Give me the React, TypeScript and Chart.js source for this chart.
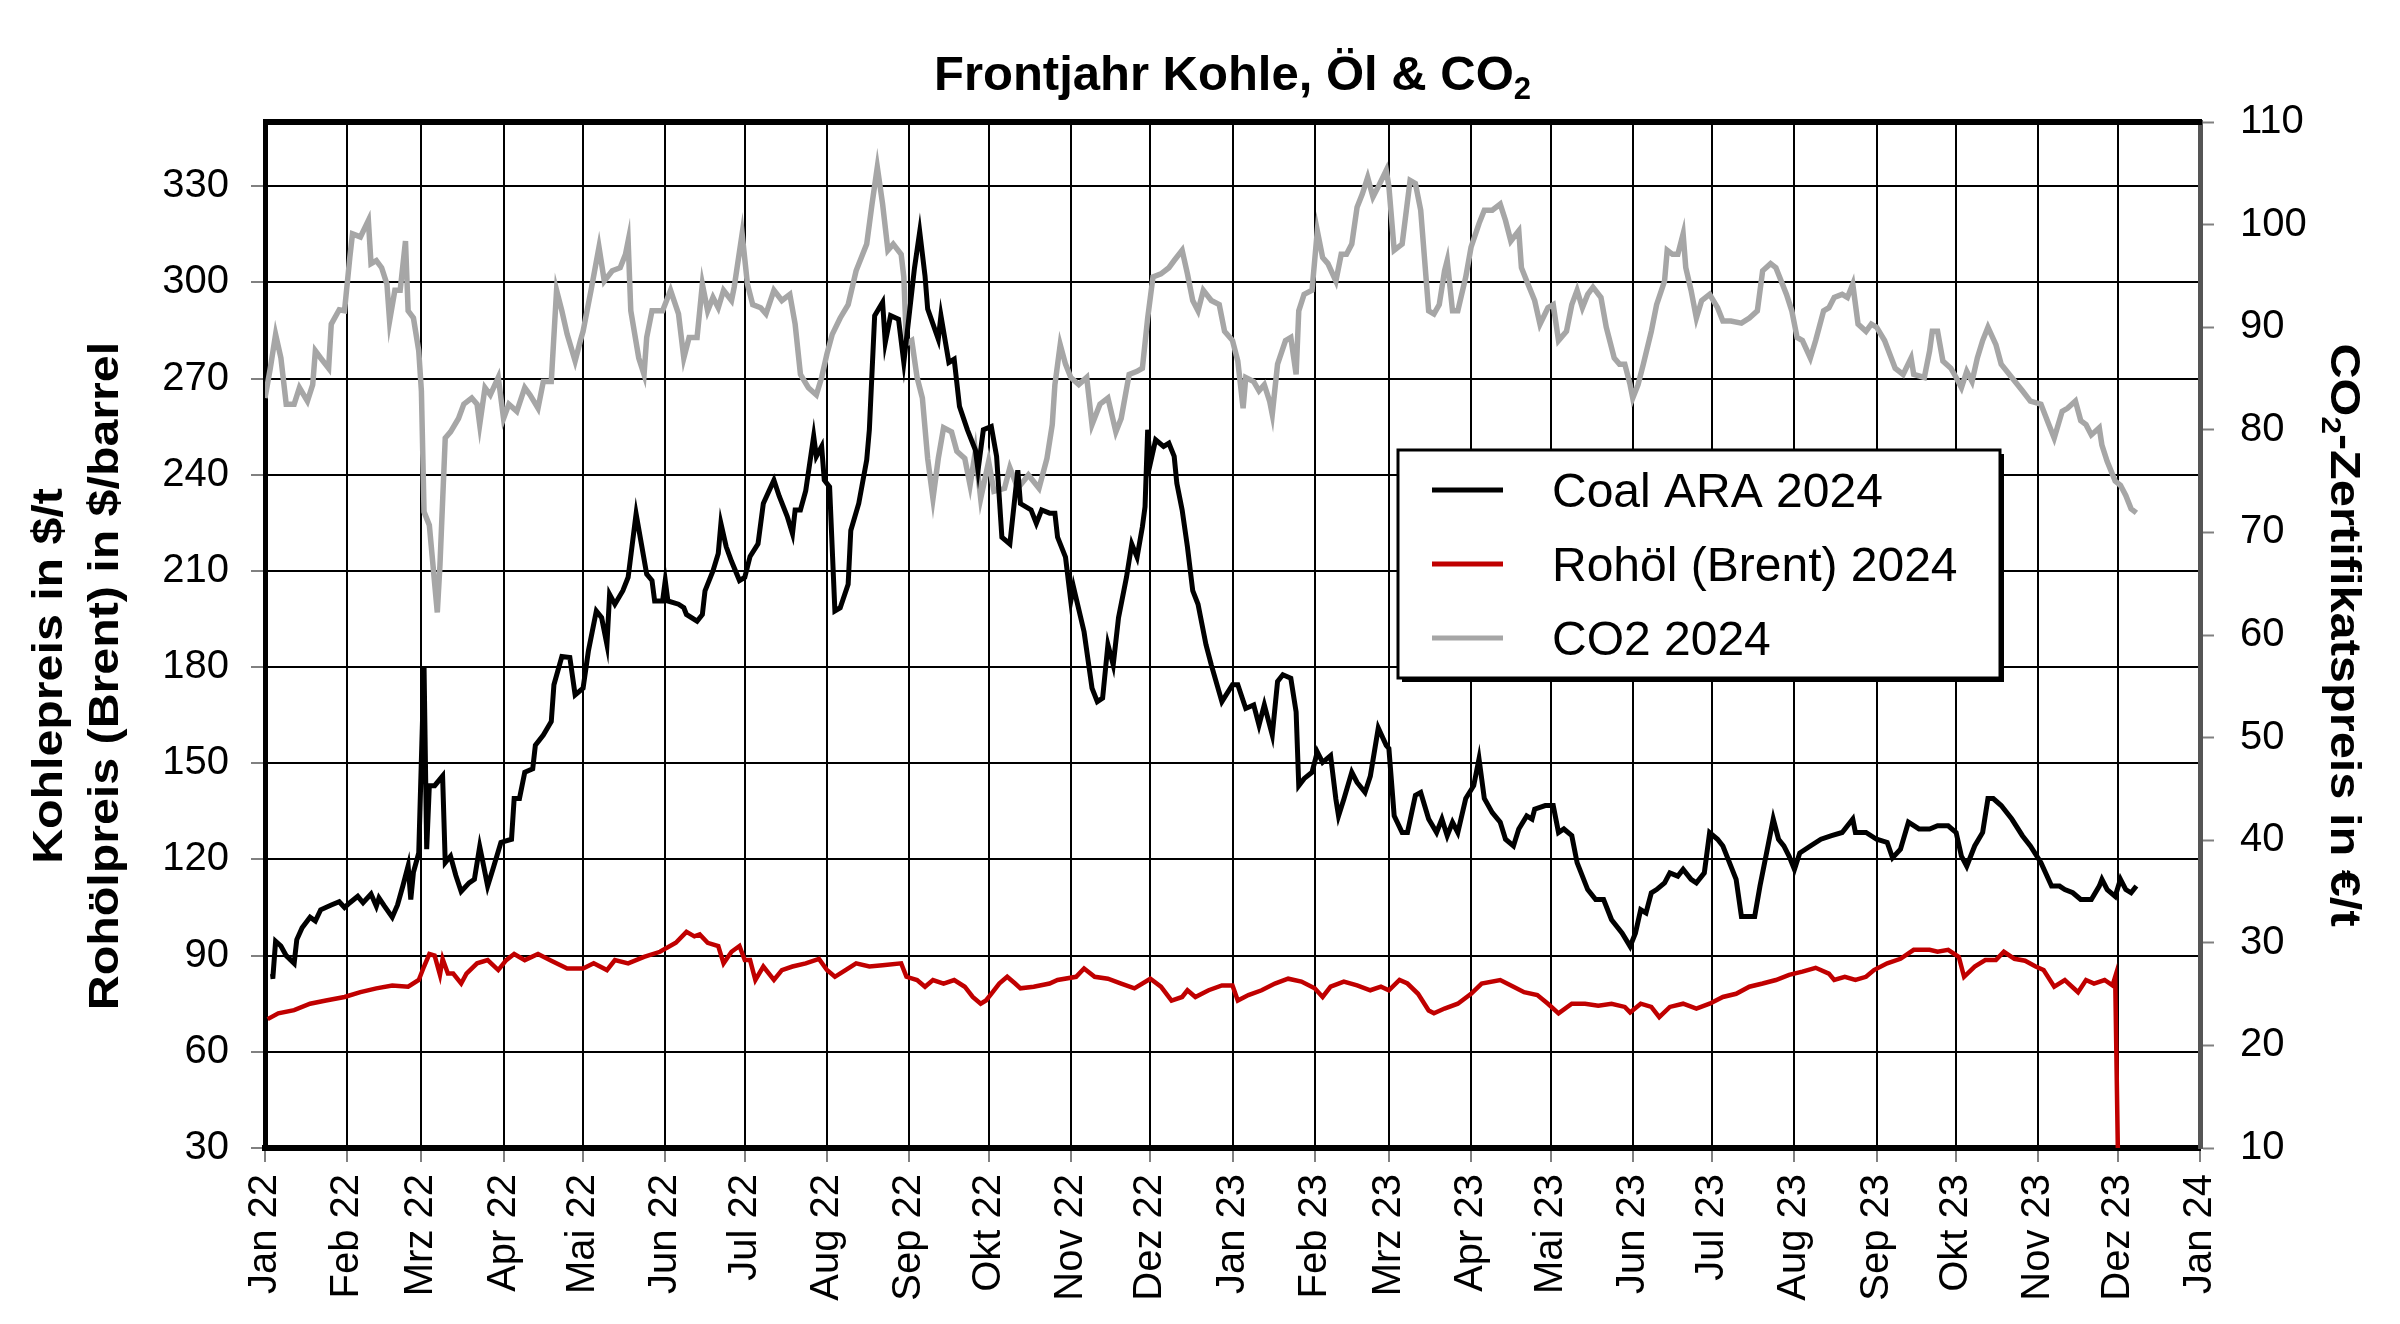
import React, { useEffect, useRef } from 'react';
import { Chart, registerables } from 'chart.js';

Chart.register(...registerables);

const FONT = '"Liberation Sans", Arial, sans-serif';

// Month starts (days since 1 Jan 2022) and their tick labels
const monthDays = [0, 31, 59, 90, 120, 151, 181, 212, 243, 273, 304, 334, 365, 396, 424, 455, 485, 516, 546, 577, 608, 638, 669, 699, 730];
const monthLabels = ['Jan 22', 'Feb 22', 'Mrz 22', 'Apr 22', 'Mai 22', 'Jun 22', 'Jul 22', 'Aug 22', 'Sep 22', 'Okt 22', 'Nov 22', 'Dez 22', 'Jan 23', 'Feb 23', 'Mrz 23', 'Apr 23', 'Mai 23', 'Jun 23', 'Jul 23', 'Aug 23', 'Sep 23', 'Okt 23', 'Nov 23', 'Dez 23', 'Jan 24'];

const leftTicks = [30, 60, 90, 120, 150, 180, 210, 240, 270, 300, 330];

// Coal ARA 2024 ($/t)
const coalDays = [2, 3, 4, 6, 8, 11, 12, 14, 17, 19, 21, 25, 28, 30, 32, 35, 37, 40, 42, 43, 45, 48, 50, 52, 54, 55, 56, 58, 60, 61, 62, 64, 67, 68, 70, 72, 74, 77, 79, 81, 82, 84, 86, 89, 93, 94, 96, 98, 101, 102, 105, 108, 109, 112, 115, 117, 120, 122, 125, 127, 129, 130, 132, 135, 137, 140, 142, 144, 146, 147, 150, 151, 152, 156, 158, 159, 163, 165, 166, 169, 171, 172, 174, 176, 179, 181, 183, 186, 188, 192, 194, 197, 199, 200, 202, 204, 207, 208, 210, 211, 213, 215, 217, 220, 221, 224, 227, 228, 230, 233, 234, 236, 239, 241, 242, 245, 247, 249, 250, 254, 255, 258, 260, 262, 265, 268, 269, 271, 274, 276, 278, 281, 284, 285, 289, 291, 293, 296, 298, 299, 302, 304, 305, 309, 312, 314, 316, 318, 320, 322, 325, 327, 329, 331, 332, 333, 334, 336, 339, 341, 343, 344, 346, 348, 350, 352, 355, 357, 361, 365, 367, 370, 373, 375, 377, 380, 382, 384, 387, 389, 390, 392, 395, 397, 399, 402, 404, 405, 407, 410, 412, 415, 417, 420, 423, 424, 426, 429, 431, 434, 436, 439, 442, 444, 446, 448, 450, 453, 456, 458, 460, 463, 466, 468, 471, 473, 476, 478, 479, 483, 486, 488, 490, 493, 495, 499, 502, 505, 508, 512, 515, 517, 519, 521, 523, 525, 528, 530, 533, 535, 538, 540, 543, 545, 548, 550, 552, 555, 557, 559, 562, 564, 567, 569, 571, 573, 575, 577, 579, 583, 587, 591, 595, 599, 600, 604, 608, 612, 614, 617, 620, 624, 628, 631, 635, 638, 640, 642, 645, 648, 650, 652, 655, 659, 663, 666, 670, 674, 677, 679, 682, 685, 689, 692, 693, 695, 698, 700, 702, 704, 706];
const coalPrices = [83.4, 83.5, 94.5, 93, 90, 87.6, 95, 98.7, 102, 100.8, 104.3, 105.8, 106.8, 105, 106.5, 108.5, 106.5, 109.2, 105.4, 108, 105.5, 102, 105.8, 111.7, 118, 107.5, 116, 122, 180.3, 123.2, 143, 143, 146, 119, 121, 115, 110, 112.7, 113.8, 124, 120, 111.7, 117, 125.3, 126.3, 139, 139, 147.2, 148.3, 155.6, 158.8, 163, 174.5, 183.3, 183, 171.3, 173.4, 185, 197.5, 195.4, 187, 202.7, 199.6, 203.8, 208, 227.8, 218.4, 209, 207, 200.6, 200.6, 207, 200.6, 199.6, 198.5, 196.4, 194.3, 196.4, 203.8, 210, 215.4, 224.8, 217.5, 213, 207, 208, 214.5, 218.4, 231, 238.3, 233.3, 227, 221.6, 229, 229, 235, 252, 245.7, 248.8, 238.3, 236.2, 197.5, 198.5, 205.8, 222.6, 231, 244.6, 254, 289.6, 293.8, 281.2, 289.6, 288.5, 275, 282.3, 304.3, 315.8, 302, 291.7, 282.3, 289.6, 275, 276, 261.3, 254, 247.7, 241.4, 254, 255, 245.7, 220.5, 218.4, 241.4, 231, 229, 224.8, 229, 228, 228, 220.5, 214.3, 200.6, 205, 191, 173.4, 169.2, 170.3, 187, 180.7, 195.4, 208, 218.4, 214.3, 223.7, 230, 254, 243.5, 250.9, 248.8, 249.8, 245.7, 237.3, 229, 217.5, 203.8, 199.6, 187, 180.7, 169.2, 174.5, 174.5, 167.1, 168.2, 161.9, 168.2, 158.8, 175.5, 177.6, 176.5, 166, 143, 145.2, 147.2, 153.5, 150.3, 152.4, 138.8, 133.6, 138.8, 147.2, 144, 140.9, 146, 161, 155.6, 154.6, 133.6, 128.4, 128.4, 140, 140.9, 132.6, 128.4, 132.6, 127.4, 131.6, 128.4, 139, 143, 151.4, 139, 134.6, 131.6, 126.3, 124.2, 129.5, 133.6, 132.6, 135.7, 136.8, 136.8, 128.4, 129.5, 127.4, 119, 110.6, 107.5, 107.5, 101.2, 97, 92.9, 97, 104.3, 103.3, 109.6, 110.6, 112.7, 115.8, 114.8, 116.9, 113.8, 112.7, 115.8, 128.4, 126.3, 124.2, 120, 113.8, 102.2, 102.2, 102.2, 111.7, 124.2, 132.6, 126.3, 124.2, 121, 116.9, 122, 124.2, 126.3, 127.4, 128.4, 132.6, 128.4, 128.4, 126.3, 125.3, 120.5, 123.2, 131.6, 129.5, 129.5, 130.5, 130.5, 128.4, 121, 117.9, 124.2, 128.4, 139, 139, 136.8, 132.6, 127.4, 124.2, 119, 111.7, 111.7, 110.6, 109.6, 107.5, 107.5, 111.7, 113.8, 110.6, 108.5, 113.8, 110.6, 109.6, 111.7];

// Rohöl (Brent) 2024 ($/barrel)
const brentDays = [1, 5, 11, 17, 23, 30, 36, 42, 48, 54, 58, 60, 62, 64, 66, 67, 69, 71, 74, 76, 80, 84, 88, 91, 94, 98, 103, 108, 114, 120, 124, 129, 132, 137, 143, 149, 155, 159, 162, 164, 167, 171, 173, 176, 179, 181, 183, 185, 188, 192, 195, 199, 204, 209, 212, 215, 219, 223, 228, 233, 240, 242, 246, 249, 252, 256, 260, 264, 267, 270, 272, 274, 277, 280, 283, 285, 290, 296, 299, 306, 309, 313, 318, 323, 328, 334, 338, 342, 346, 348, 351, 356, 361, 365, 367, 371, 376, 381, 386, 391, 396, 399, 402, 407, 412, 417, 421, 424, 428, 431, 435, 439, 441, 445, 450, 455, 459, 466, 471, 475, 480, 484, 488, 493, 498, 503, 508, 513, 515, 519, 523, 526, 530, 535, 540, 545, 550, 555, 560, 565, 570, 575, 580, 585, 590, 592, 596, 600, 604, 607, 612, 617, 622, 628, 631, 635, 639, 641, 645, 649, 653, 656, 660, 664, 668, 671, 675, 679, 684, 687, 690, 694, 697, 698, 699];
const brentPrices = [70.2, 72, 73, 75, 76, 77.1, 78.6, 79.8, 80.7, 80.3, 82.4, 86.6, 90.5, 90, 84, 89, 84.4, 84.4, 81.3, 84.4, 87.6, 88.6, 85.5, 88.6, 90.5, 88.6, 90.5, 88.4, 86, 86, 87.6, 85.5, 88.6, 87.6, 89.6, 91.2, 94, 97.4, 96, 96.6, 94, 93, 87.6, 91.2, 93, 88.6, 88.6, 82.4, 86.6, 82.4, 85.5, 86.6, 87.6, 89, 85.5, 83.4, 85.5, 87.6, 86.6, 87, 87.6, 83.4, 82.4, 80.3, 82.4, 81.3, 82.4, 80.3, 77.1, 75, 76, 78.1, 81.3, 83.4, 81.3, 79.8, 80.3, 81.3, 82.4, 83.4, 86, 83.4, 82.8, 81.3, 79.8, 82.8, 80.3, 76, 77.1, 79.2, 77.1, 79.2, 80.7, 80.7, 76, 77.7, 79.2, 81.3, 82.8, 81.9, 79.8, 77.1, 80.3, 81.9, 80.7, 79.2, 80.3, 79.2, 82.4, 81.3, 78.1, 72.9, 72, 73.5, 75, 78.1, 81.3, 82.4, 80.3, 78.6, 77.7, 75, 72, 75, 75, 74.4, 75, 74, 72.3, 75, 74, 70.8, 74, 75, 73.5, 75, 77.1, 78.1, 80.3, 81.3, 82.4, 84, 85, 86.2, 84.4, 82.4, 83.4, 82.4, 83.4, 85.5, 87.6, 89, 91.8, 91.8, 91.2, 91.8, 89.6, 83.4, 86.6, 88.6, 88.6, 91.2, 89, 88.4, 86.6, 85.5, 80.3, 82.4, 78.6, 82.4, 81.3, 82.4, 80.7, 83.4, 30];

// CO2 2024 (€/t)
const co2Days = [0, 2, 4, 6, 8, 11, 13, 16, 18, 19, 21, 24, 25, 28, 30, 32, 33, 36, 39, 40, 42, 44, 46, 47, 49, 51, 53, 54, 56, 58, 59, 60, 62, 65, 66, 68, 70, 73, 75, 78, 80, 81, 83, 85, 88, 90, 92, 95, 98, 100, 103, 105, 108, 110, 112, 114, 117, 119, 120, 123, 126, 128, 131, 134, 136, 137, 138, 141, 143, 144, 146, 150, 153, 156, 158, 160, 163, 165, 167, 169, 171, 173, 176, 177, 180, 182, 184, 187, 189, 192, 195, 198, 200, 202, 205, 208, 210, 212, 214, 217, 220, 223, 227, 229, 231, 233, 235, 237, 240, 241, 242, 244, 246, 248, 250, 252, 254, 256, 259, 261, 264, 266, 268, 270, 273, 275, 279, 281, 284, 288, 292, 295, 297, 298, 300, 302, 304, 307, 310, 312, 315, 318, 321, 323, 326, 329, 331, 333, 335, 338, 341, 343, 346, 348, 350, 352, 354, 357, 360, 362, 365, 367, 369, 370, 373, 375, 377, 379, 380, 382, 385, 387, 389, 390, 392, 395, 397, 399, 401, 404, 406, 408, 410, 412, 414, 416, 418, 420, 423, 424, 426, 429, 432, 434, 436, 439, 441, 443, 445, 446, 448, 450, 453, 455, 458, 460, 463, 466, 468, 470, 473, 474, 476, 479, 481, 484, 486, 488, 491, 493, 495, 497, 499, 501, 504, 506, 509, 511, 513, 515, 516, 518, 520, 523, 525, 528, 529, 531, 533, 535, 536, 538, 540, 542, 545, 548, 550, 553, 557, 560, 563, 565, 568, 570, 572, 574, 576, 578, 580, 583, 585, 588, 590, 592, 595, 597, 599, 601, 604, 606, 608, 611, 615, 618, 621, 622, 626, 628, 629, 631, 633, 636, 638, 640, 642, 644, 646, 648, 650, 653, 655, 659, 663, 666, 670, 673, 675, 678, 680, 683, 685, 687, 689, 692, 693, 695, 698, 700, 702, 704, 706];
const co2Prices = [83.1, 86, 89.3, 87, 82.5, 82.5, 84.1, 82.8, 84.4, 87.7, 87, 86, 90.3, 91.7, 91.6, 96.8, 99.1, 98.8, 100.4, 96.2, 96.5, 95.8, 94.2, 90.6, 93.6, 93.6, 98.4, 91.6, 90.9, 87.7, 83.8, 72, 70.7, 62.2, 66.8, 79.2, 79.8, 81.1, 82.5, 83.1, 82.5, 80.5, 84.1, 83.4, 85.1, 81.1, 82.5, 81.8, 84.1, 83.4, 82.1, 84.7, 84.7, 93.6, 91.6, 89.3, 86.7, 88.7, 89.6, 93.6, 97.8, 94.5, 95.5, 95.8, 97.1, 98.4, 91.6, 87, 85.4, 89, 91.6, 91.6, 93.6, 91.3, 87, 89, 89, 94.2, 91.6, 92.9, 91.9, 93.6, 92.6, 93.9, 99.1, 94.2, 92.2, 91.9, 91.3, 93.6, 92.6, 93.2, 90.3, 85.4, 84.1, 83.4, 85.1, 87.4, 89.3, 90.9, 92.2, 95.5, 98.1, 102, 105.6, 102, 97.5, 98.1, 97.1, 94.9, 88.4, 88.7, 85.1, 83.1, 77.2, 73.3, 77.2, 80.2, 79.8, 77.9, 77.2, 74.6, 77.9, 73.3, 76.9, 74, 74.3, 76.3, 74.3, 75.6, 74.3, 77.2, 80.5, 84.4, 88.3, 86.4, 85.1, 84.4, 85.1, 80.5, 82.5, 83.1, 79.8, 81.1, 85.4, 85.7, 86, 90.9, 94.9, 95.2, 95.8, 96.5, 97.5, 95.2, 92.6, 91.6, 93.6, 92.6, 92.2, 89.6, 88.7, 86.7, 82.1, 85.1, 84.7, 83.8, 84.4, 82.8, 81.5, 86.4, 88.7, 89, 85.4, 91.6, 93.2, 93.6, 99.4, 96.8, 96.2, 94.5, 97.1, 97.1, 98.1, 101.7, 103, 104.6, 102.7, 103.7, 105.3, 103.7, 97.5, 98.1, 104.3, 104, 101.4, 91.6, 91.3, 92.2, 95.5, 96.5, 91.6, 91.6, 94.9, 97.8, 100.1, 101.4, 101.4, 102, 100.4, 98.4, 99.4, 95.8, 94.5, 92.6, 90.3, 91.9, 92.2, 88.7, 89.6, 92.2, 93.6, 91.9, 93.2, 93.9, 92.9, 90, 87, 86.4, 86.4, 84.4, 83.1, 84.4, 86.4, 89.6, 92.2, 94.5, 97.5, 97.1, 97.1, 99.1, 95.8, 93.6, 90.9, 92.6, 93.2, 91.9, 90.6, 90.6, 90.4, 90.9, 91.6, 95.5, 96.2, 95.8, 94.5, 93.2, 91.6, 89, 88.7, 87, 88.7, 91.6, 91.9, 92.9, 93.2, 92.9, 94.2, 90.3, 89.6, 90.3, 90, 88.7, 86, 85.4, 87, 85.4, 85.1, 87.7, 89.6, 89.6, 86.7, 86, 85.1, 84.1, 85.7, 84.7, 87, 88.7, 90, 88.3, 86.4, 85.1, 83.8, 82.8, 82.5, 80.5, 79.2, 81.8, 82.1, 82.8, 80.9, 80.5, 79.5, 80.2, 78.5, 76.9, 75, 74.6, 73.6, 72.3, 71.9];

const seriesNames = ['Coal ARA 2024', 'Rohöl (Brent) 2024', 'CO2 2024'];
const seriesColors = ['#000000', '#C00000', '#A6A6A6'];

function toPoints(days: number[], vals: number[]) {
  return days.map((d, i) => ({ x: d, y: vals[i] }));
}

type Part = { t: string; font: string; dy: number };

function drawParts(ctx: CanvasRenderingContext2D, parts: Part[], startX: number) {
  let x = startX;
  for (const p of parts) {
    ctx.font = p.font;
    ctx.fillText(p.t, x, p.dy);
    x += ctx.measureText(p.t).width;
  }
}

function partsWidth(ctx: CanvasRenderingContext2D, parts: Part[]) {
  let w = 0;
  for (const p of parts) {
    ctx.font = p.font;
    w += ctx.measureText(p.t).width;
  }
  return w;
}

const decorPlugin = {
  id: 'decor',
  afterDraw(chart: any) {
    const ctx: CanvasRenderingContext2D = chart.ctx;
    const a = chart.chartArea;
    ctx.save();
    // top frame line
    ctx.strokeStyle = '#000';
    ctx.lineWidth = 6;
    ctx.beginPath();
    ctx.moveTo(a.left - 2, a.top);
    ctx.lineTo(a.right + 2, a.top);
    ctx.stroke();

    ctx.fillStyle = '#000';
    ctx.textAlign = 'left';
    ctx.textBaseline = 'alphabetic';

    // chart title with subscript
    const titleParts: Part[] = [
      { t: 'Frontjahr Kohle, Öl & CO', font: `bold 49px ${FONT}`, dy: 0 },
      { t: '2', font: `bold 31px ${FONT}`, dy: 9 },
    ];
    ctx.save();
    ctx.translate((a.left + a.right) / 2, 90);
    drawParts(ctx, titleParts, -partsWidth(ctx, titleParts) / 2);
    ctx.restore();

    // left axis title (two lines, rotated)
    const leftLines = [
      { t: 'Kohlepreis in $/t', x: 62 },
      { t: 'Rohölpreis (Brent) in $/barrel', x: 118 },
    ];
    for (const l of leftLines) {
      ctx.save();
      ctx.translate(l.x, 676);
      ctx.rotate(-Math.PI / 2);
      ctx.scale(1.15, 1);
      const p: Part[] = [{ t: l.t, font: `bold 42px ${FONT}`, dy: 0 }];
      drawParts(ctx, p, -partsWidth(ctx, p) / 2);
      ctx.restore();
    }

    // right axis title (rotated, with subscript)
    const rightParts: Part[] = [
      { t: 'CO', font: `bold 42px ${FONT}`, dy: 0 },
      { t: '2', font: `bold 27px ${FONT}`, dy: 9 },
      { t: '-Zertifikatspreis in €/t', font: `bold 42px ${FONT}`, dy: 0 },
    ];
    ctx.save();
    ctx.translate(2331, 635);
    ctx.rotate(Math.PI / 2);
    ctx.scale(1.16, 1);
    drawParts(ctx, rightParts, -partsWidth(ctx, rightParts) / 2);
    ctx.restore();

    // legend box
    const lx = 1398, ly = 450, lw = 602, lh = 228;
    ctx.fillStyle = '#000';
    ctx.fillRect(lx + 4, ly + 4, lw, lh);
    ctx.fillStyle = '#fff';
    ctx.fillRect(lx, ly, lw, lh);
    ctx.strokeStyle = '#000';
    ctx.lineWidth = 3;
    ctx.strokeRect(lx, ly, lw, lh);
    const rows = [490, 564, 638];
    seriesNames.forEach((name, i) => {
      ctx.strokeStyle = seriesColors[i];
      ctx.lineWidth = 5;
      ctx.beginPath();
      ctx.moveTo(1432, rows[i]);
      ctx.lineTo(1503, rows[i]);
      ctx.stroke();
      ctx.fillStyle = '#000';
      ctx.font = `48px ${FONT}`;
      ctx.fillText(name, 1552, rows[i] + 17);
    });
    ctx.restore();
  },
};

export default function App() {
  const ref = useRef<HTMLCanvasElement | null>(null);
  useEffect(() => {
    if (!ref.current) return;
    const tickFont = { family: FONT, size: 40 };
    const chart = new Chart(ref.current, {
      type: 'line',
      data: {
        datasets: [
          { label: seriesNames[0], data: toPoints(coalDays, coalPrices), borderColor: seriesColors[0], borderWidth: 5, pointRadius: 0, yAxisID: 'y', order: 0, tension: 0 },
          { label: seriesNames[1], data: toPoints(brentDays, brentPrices), borderColor: seriesColors[1], borderWidth: 4.5, pointRadius: 0, yAxisID: 'y', order: 1, tension: 0 },
          { label: seriesNames[2], data: toPoints(co2Days, co2Prices), borderColor: seriesColors[2], borderWidth: 5.5, pointRadius: 0, yAxisID: 'y1', order: 2, tension: 0 },
        ],
      },
      options: {
        animation: false,
        responsive: false,
        devicePixelRatio: 1,
        events: [],
        layout: { padding: { top: 122, left: 0, right: 0, bottom: 0 } },
        plugins: { legend: { display: false }, tooltip: { enabled: false }, title: { display: false } },
        scales: {
          x: {
            type: 'linear',
            position: 'bottom',
            min: 0,
            max: 730,
            afterBuildTicks: (s: any) => { s.ticks = monthDays.map((v) => ({ value: v })); },
            afterFit: (s: any) => { s.height = 176; },
            ticks: {
              autoSkip: false,
              minRotation: 90,
              maxRotation: 90,
              padding: 12,
              color: '#000',
              font: tickFont,
              callback: (v: any) => { const i = monthDays.indexOf(Number(v)); return i >= 0 ? monthLabels[i] : ''; },
            },
            grid: { color: '#000', lineWidth: 2, drawTicks: true, tickLength: 14, tickColor: '#808080', tickWidth: 2 },
            border: { color: '#000', width: 6 },
          },
          y: {
            type: 'linear',
            position: 'left',
            min: 30,
            max: 350,
            afterBuildTicks: (s: any) => { s.ticks = leftTicks.map((v) => ({ value: v })); },
            afterFit: (s: any) => { s.width = 265; },
            ticks: { padding: 22, color: '#000', font: tickFont },
            grid: { color: '#000', lineWidth: 2, drawTicks: true, tickLength: 14, tickColor: '#808080', tickWidth: 2 },
            border: { color: '#000', width: 5 },
          },
          y1: {
            type: 'linear',
            position: 'right',
            min: 10,
            max: 110,
            afterFit: (s: any) => { s.width = 200; },
            ticks: { stepSize: 10, padding: 26, color: '#000', font: tickFont },
            grid: { drawOnChartArea: false, drawTicks: true, tickLength: 14, tickColor: '#808080', tickWidth: 2 },
            border: { color: '#555555', width: 5 },
          },
        },
      } as any,
      plugins: [decorPlugin],
    });
    return () => chart.destroy();
  }, []);
  return (
    <div style={{ position: 'fixed', left: 0, top: 0, width: 2400, height: 1324, background: '#fff' }}>
      <canvas ref={ref} width={2400} height={1324} style={{ display: 'block', width: 2400, height: 1324 }} />
    </div>
  );
}
